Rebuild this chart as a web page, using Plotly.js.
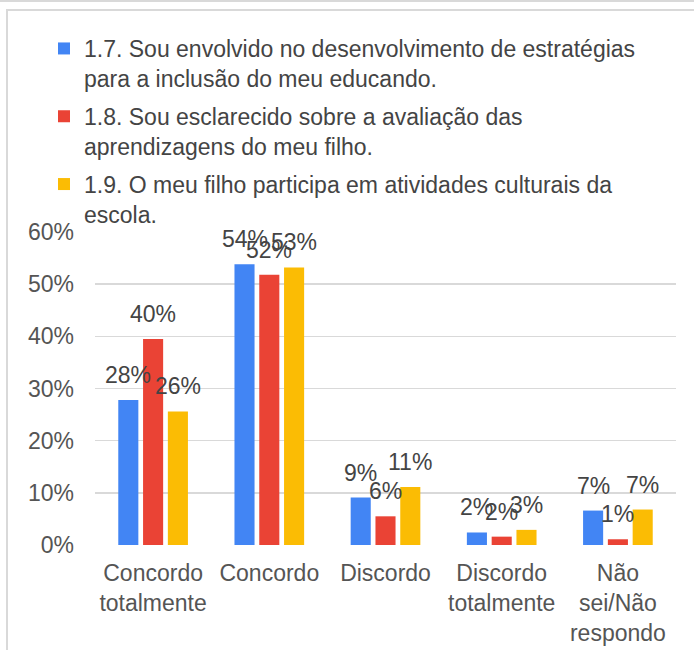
<!DOCTYPE html>
<html>
<head>
<meta charset="utf-8">
<script src="https://cdn.plot.ly/plotly-3.0.1.min.js"></script>
<style>
  html, body { margin: 0; padding: 0; background: #fff; }
  #chart { width: 694px; height: 650px; }
</style>
</head>
<body>
<div id="chart"></div>
<script>
// ---- data ----
var categories = ["Concordo<br>totalmente", "Concordo", "Discordo", "Discordo<br>totalmente", "Não<br>sei/Não<br>respondo"];
var seriesNames = [
  "1.7. Sou envolvido no desenvolvimento de estratégias<br>para a inclusão do meu educando.",
  "1.8. Sou esclarecido sobre a avaliação das<br>aprendizagens do meu filho.",
  "1.9. O meu filho participa em atividades culturais da<br>escola."
];
var s17 = [27.8, 53.8, 9.1, 2.4, 6.6];
var s18 = [39.5, 51.8, 5.5, 1.6, 1.1];
var s19 = [25.6, 53.2, 11.1, 2.9, 6.8];
var yTicks = [0, 10, 20, 30, 40, 50, 60];
var yTickLabels = ["0%", "10%", "20%", "30%", "40%", "50%", "60%"];

// ---- styling ----
var colors = ["#4285F4", "#EA4335", "#FBBC04"];
var FONT = "Liberation Sans, Arial, sans-serif";
var FS = 23;
var W = 694, H = 650;
var margin = {l: 95, r: 18, t: 232, b: 105};
var bargap = 0.36;
var plotW = W - margin.l - margin.r;
var plotH = H - margin.t - margin.b;
var slotPx = (plotW / categories.length) * (1 - bargap) / 3;

var allSeries = [s17, s18, s19];
var traces = allSeries.map(function (vals, i) {
  return {
    type: "bar",
    name: seriesNames[i],
    legendgroup: "g" + i,
    x: categories,
    y: vals,
    marker: {color: colors[i]},
    hoverinfo: "skip"
  };
});

var annotations = [];
allSeries.forEach(function (vals, i) {
  vals.forEach(function (v, j) {
    annotations.push({
      x: categories[j], y: v, xref: "x", yref: "y",
      text: Math.round(v) + "%",
      showarrow: false,
      xanchor: "center", yanchor: "bottom",
      xshift: (i - 1) * slotPx,
      yshift: 10,
      font: {family: FONT, size: FS, color: "#444444"}
    });
  });
});

function px2paperX(p) { return (p - margin.l) / plotW; }
function px2paperY(p) { return (H - margin.b - p) / plotH; }

var frameColor = "#d9d9d9";
var shapes = [
  {type: "line", xref: "paper", yref: "paper", x0: px2paperX(0), x1: px2paperX(W), y0: px2paperY(1), y1: px2paperY(1), line: {color: frameColor, width: 2}},
  {type: "line", xref: "paper", yref: "paper", x0: px2paperX(6), x1: px2paperX(W), y0: px2paperY(10), y1: px2paperY(10), line: {color: frameColor, width: 2}},
  {type: "line", xref: "paper", yref: "paper", x0: px2paperX(7), x1: px2paperX(7), y0: px2paperY(10), y1: px2paperY(H), line: {color: frameColor, width: 2}}
];

var layout = {
  width: W, height: H,
  margin: {l: margin.l, r: margin.r, t: margin.t, b: margin.b, autoexpand: false},
  paper_bgcolor: "#ffffff",
  plot_bgcolor: "#ffffff",
  font: {family: FONT, size: FS, color: "#444444"},
  barmode: "group",
  bargap: bargap,
  bargroupgap: 0.19,
  showlegend: true,
  legend: {
    x: px2paperX(44), xanchor: "left",
    y: px2paperY(27), yanchor: "top",
    font: {family: FONT, size: FS, color: "#444444"},
    valign: "top",
    bgcolor: "rgba(0,0,0,0)",
    traceorder: "grouped",
    tracegroupgap: 5
  },
  xaxis: {
    type: "category",
    showgrid: false, zeroline: false, showline: false,
    ticks: "",
    ticklabelstandoff: 12,
    tickfont: {family: FONT, size: FS, color: "#555555"},
    fixedrange: true
  },
  yaxis: {
    range: [0, 60],
    tickvals: yTicks, ticktext: yTickLabels,
    showgrid: true, gridcolor: frameColor, gridwidth: 1.5,
    zeroline: false, showline: false,
    ticks: "",
    ticklabelstandoff: 20,
    tickfont: {family: FONT, size: FS, color: "#555555"},
    fixedrange: true
  },
  annotations: annotations,
  shapes: shapes
};

Plotly.newPlot("chart", traces, layout, {displayModeBar: false, staticPlot: true});
</script>
</body>
</html>
